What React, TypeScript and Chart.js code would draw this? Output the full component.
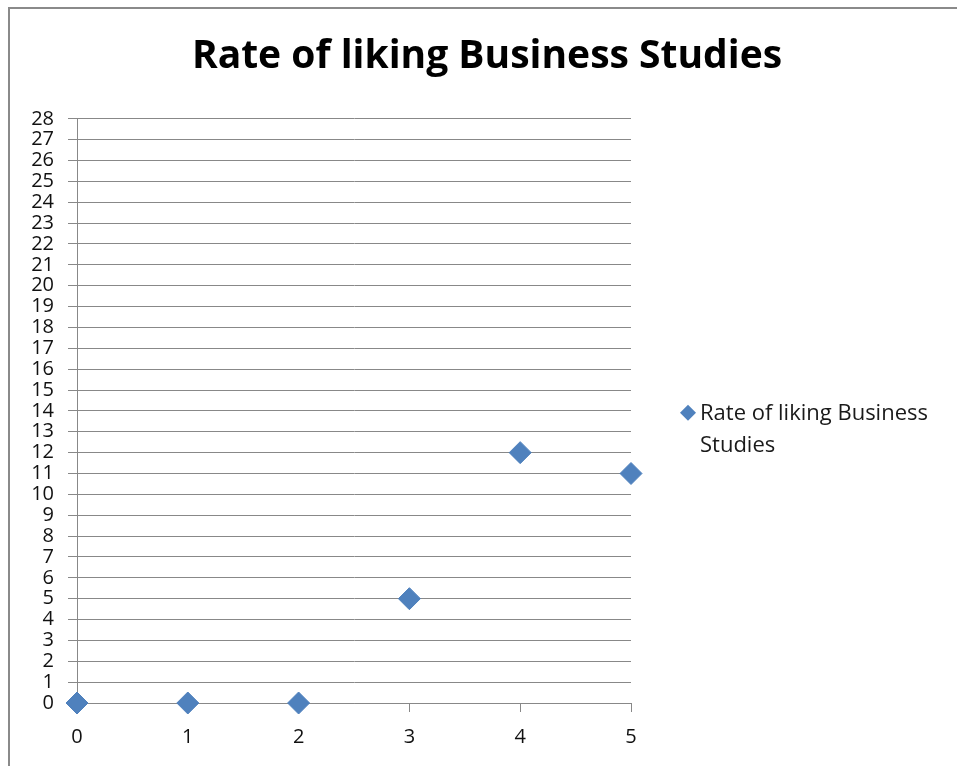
import React, { useEffect, useRef } from "react";
import { Chart, registerables } from "chart.js";

Chart.register(...registerables);

const TITLE = "Rate of liking Business Studies";
const SERIES_NAME = "Rate of liking Business Studies";
const LEGEND_LINES = ["Rate of liking Business", "Studies"];
const X_VALUES = [0, 1, 2, 3, 4, 5];
const Y_VALUES = [0, 0, 0, 5, 12, 11];
const X_MIN = 0;
const X_MAX = 5;
const Y_MIN = 0;
const Y_MAX = 28;

const FONT = "'Open Sans', 'DejaVu Sans', sans-serif";
const BLUE = "#4F81BD";
const GRID = "#888888";

const legendPlugin = {
  id: "customLegend",
  afterDraw(chart: any) {
    const ctx = chart.ctx;
    const area = chart.chartArea;
    const cx = area.right + 57;
    const cy = area.top + 294;
    const r = 8;
    ctx.save();
    ctx.fillStyle = BLUE;
    ctx.beginPath();
    ctx.moveTo(cx, cy - r);
    ctx.lineTo(cx + r, cy);
    ctx.lineTo(cx, cy + r);
    ctx.lineTo(cx - r, cy);
    ctx.closePath();
    ctx.fill();
    ctx.fillStyle = "#1a1a1a";
    ctx.font = `22px ${FONT}`;
    ctx.textBaseline = "middle";
    ctx.textAlign = "left";
    LEGEND_LINES.forEach((line, i) => {
      ctx.fillText(line, cx + 12, cy + 1 + i * 32);
    });
    ctx.restore();
  },
};

export default function App() {
  const ref = useRef<HTMLCanvasElement | null>(null);
  useEffect(() => {
    if (!ref.current) return;
    const chart = new Chart(ref.current, {
      type: "scatter",
      data: {
        datasets: [
          {
            label: SERIES_NAME,
            data: X_VALUES.map((x, i) => ({ x, y: Y_VALUES[i] })),
            backgroundColor: BLUE,
            borderColor: BLUE,
            borderWidth: 1,
            pointStyle: "rectRot",
            pointRadius: 11,
            pointHoverRadius: 11,
            showLine: false,
            clip: false as any,
          },
        ],
      },
      options: {
        animation: false,
        responsive: false,
        maintainAspectRatio: false,
        events: [],
        layout: { padding: 0 },
        plugins: {
          legend: { display: false },
          tooltip: { enabled: false },
          title: {
            display: true,
            text: TITLE,
            color: "#000",
            font: { family: FONT, size: 39, weight: "bold" },
            padding: { top: 24, bottom: 39 },
          },
        },
        scales: {
          x: {
            type: "linear",
            min: X_MIN,
            max: X_MAX,
            afterFit: (s: any) => {
              s.height = 63;
            },
            ticks: {
              stepSize: 1,
              color: "#111",
              font: { family: FONT, size: 20 },
              padding: 13,
            },
            grid: {
              drawOnChartArea: false,
              drawTicks: true,
              tickLength: 9,
              color: GRID,
            },
            border: { display: true, color: GRID, width: 1 },
          },
          y: {
            type: "linear",
            min: Y_MIN,
            max: Y_MAX,
            afterFit: (s: any) => {
              s.width = 67;
            },
            ticks: {
              stepSize: 1,
              autoSkip: false,
              color: "#111",
              font: { family: FONT, size: 20, lineHeight: 1 },
              padding: 14,
            },
            grid: {
              color: GRID,
              tickLength: 9,
              drawTicks: true,
            },
            border: { display: true, color: GRID, width: 1 },
          },
          spacer: {
            type: "linear",
            position: "right",
            display: true,
            afterFit: (s: any) => {
              s.width = 333;
            },
            ticks: { display: false },
            grid: { display: false },
            border: { display: false },
          },
        },
      },
      plugins: [legendPlugin],
    });
    return () => chart.destroy();
  }, []);
  return (
    <div
      style={{
        position: "fixed",
        left: 8,
        top: 7,
        width: 949,
        height: 759,
        overflow: "hidden",
        borderLeft: "2px solid #8a8a8a",
        borderTop: "2px solid #8a8a8a",
        boxSizing: "border-box",
        background: "#fff",
      }}
    >
      <canvas ref={ref} width={954} height={757} style={{ display: "block", width: 954, height: 757 }} />
    </div>
  );
}
